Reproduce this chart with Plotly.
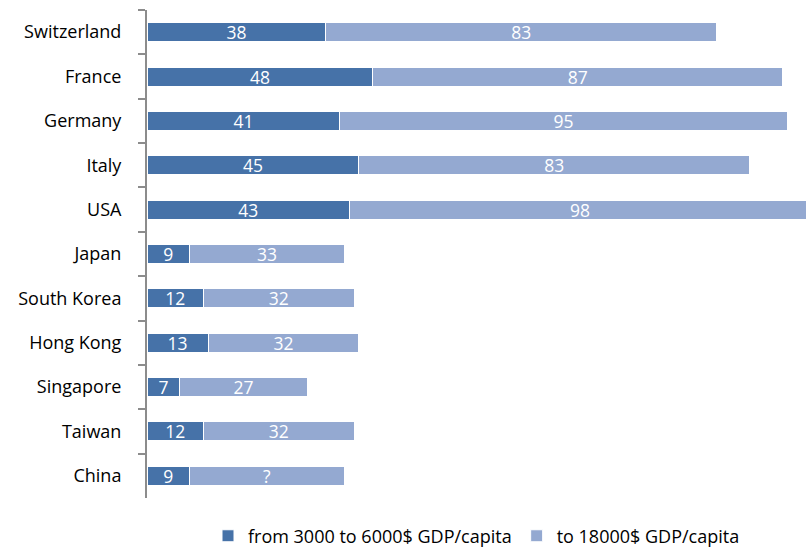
import plotly.graph_objects as go

countries = ["Switzerland", "France", "Germany", "Italy", "USA", "Japan",
             "South Korea", "Hong Kong", "Singapore", "Taiwan", "China"]
low = [38, 48, 41, 45, 43, 9, 12, 13, 7, 12, 9]
high = [83, 87, 95, 83, 98, 33, 32, 32, 27, 32, 33]
high_labels = ["83", "87", "95", "83", "98", "33", "32", "32", "27", "32", "?"]

font_family = "Open Sans, Lato, sans-serif"

fig = go.Figure()
fig.add_trace(go.Bar(
    y=countries, x=low, orientation="h",
    name="from 3000 to 6000$ GDP/capita",
    marker=dict(color="#4672A8", line=dict(color="white", width=1)),
    text=[str(v) for v in low], textposition="inside", insidetextanchor="middle",
    textangle=0, constraintext="none",
    textfont=dict(color="white", size=17.5, family=font_family),
    hoverinfo="skip",
))
fig.add_trace(go.Bar(
    y=countries, x=high, orientation="h",
    name="to 18000$ GDP/capita",
    marker=dict(color="#94A9D1", line=dict(color="white", width=1)),
    text=high_labels, textposition="inside", insidetextanchor="middle",
    textangle=0, constraintext="none",
    textfont=dict(color="white", size=17.5, family=font_family),
    hoverinfo="skip",
))

fig.update_layout(
    width=806, height=547,
    barmode="stack", bargap=0.57,
    margin=dict(l=147, r=0, t=10, b=49, autoexpand=False),
    plot_bgcolor="white", paper_bgcolor="white",
    font=dict(family=font_family, size=18, color="black"),
    showlegend=True,
    legend=dict(orientation="h", x=0.5, xanchor="center", y=0.02, yanchor="middle",
                yref="container", font=dict(size=18), traceorder="normal",
                itemwidth=30),
    xaxis=dict(range=[0, 140], showgrid=False, zeroline=False, showticklabels=False,
               showline=False, ticks=""),
    yaxis=dict(autorange="reversed", showgrid=False, showline=True,
               linecolor="#8C8C8C", linewidth=2, ticks="outside", ticklen=7,
               tickcolor="#8C8C8C", tickwidth=2, tickson="boundaries",
               ticklabelstandoff=20),
)

fig.write_html("out.html")
